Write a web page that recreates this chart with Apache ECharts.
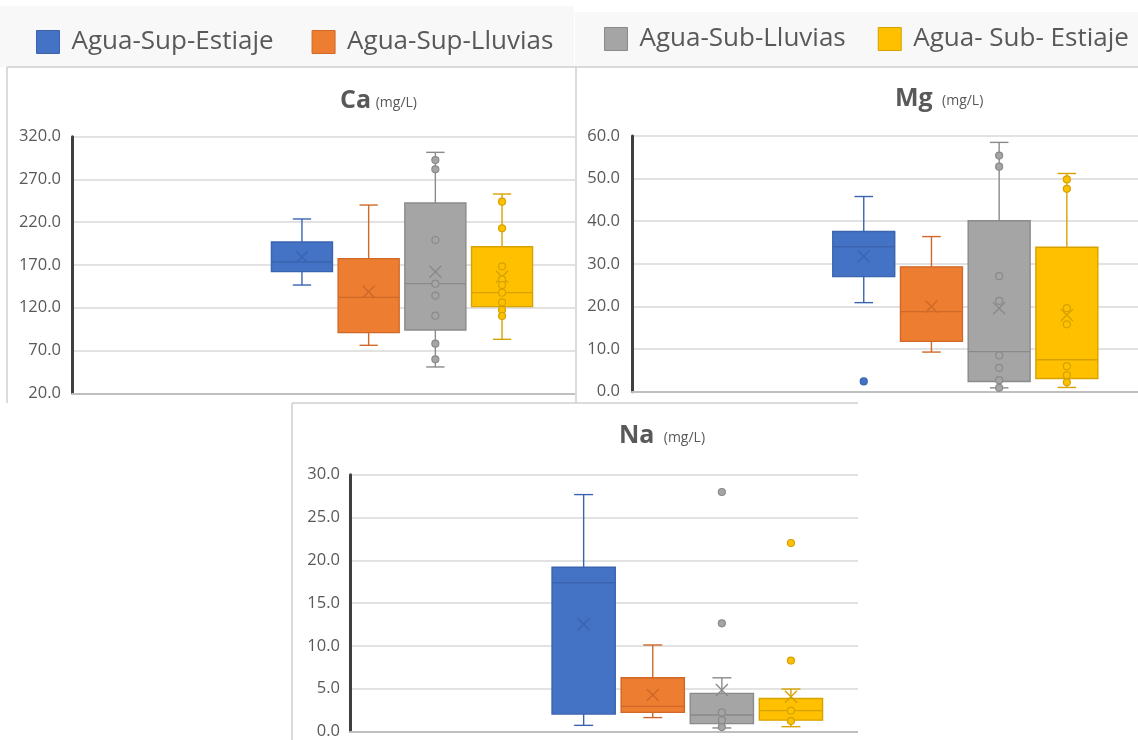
<!DOCTYPE html>
<html>
<head>
<meta charset="utf-8">
<script src="https://cdn.jsdelivr.net/npm/echarts@6/dist/echarts.min.js"></script>
<style>
  html, body { margin: 0; padding: 0; background: #fff; width: 1138px; height: 740px; overflow: hidden; }
  .panel { position: absolute; }
  #ca { left: 0; top: 0; width: 575px; height: 403px; }
  #mg { left: 575px; top: 0; width: 563px; height: 403px; }
  #na { left: 291px; top: 402px; width: 567px; height: 338px; }
</style>
</head>
<body>
<div id="ca" class="panel"></div>
<div id="mg" class="panel"></div>
<div id="na" class="panel"></div>
<script>
// Sample groups (water type / season)
const groups = ['Agua-Sup-Estiaje', 'Agua-Sup-Lluvias', 'Agua-Sub-Lluvias', 'Agua- Sub- Estiaje'];

// Calcium (mg/L): [min, Q1, median, Q3, max], means, individual points
const caStats = [
  [146.6, 162.2, 173.5, 196.9, 223.8],
  [76.1, 90.9, 132.2, 177.4, 240.1],
  [50.8, 94.0, 148.2, 242.5, 301.7],
  [83.1, 121.3, 137.7, 191.4, 253.0]
];
const caMeans = [179.4, 138.8, 162.2, 156.4];
const caPoints = [
  [],
  [],
  [292.7, 281.8, 199.2, 148.2, 134.2, 110.8, 78.0, 59.7],
  [244.0, 212.9, 168.4, 153.3, 146.6, 137.7, 126.4, 117.4, 110.4]
];
const caTicks = [20, 70, 120, 170, 220, 270, 320];

// Magnesium (mg/L)
const mgStats = [
  [20.9, 27.0, 34.0, 37.6, 45.8],
  [9.3, 11.8, 18.8, 29.3, 36.4],
  [0.9, 2.4, 9.4, 40.1, 58.5],
  [1.0, 3.1, 7.5, 33.9, 51.2]
];
const mgMeans = [31.8, 20.0, 19.6, 18.0];
const mgPoints = [
  [2.4],
  [],
  [55.4, 52.8, 27.1, 21.3, 8.5, 5.6, 2.7, 0.9],
  [49.8, 47.6, 19.6, 15.8, 6.0, 3.9, 2.2]
];
const mgTicks = [0, 10, 20, 30, 40, 50, 60];

// Sodium (mg/L)
const naStats = [
  [1.0, 2.3, 17.5, 19.3, 27.7],
  [1.9, 2.5, 3.2, 6.5, 10.3],
  [0.7, 1.2, 2.2, 4.7, 6.5],
  [0.85, 1.6, 2.7, 4.1, 5.2]
];
const naMeans = [12.7, 4.5, 5.1, 4.3];
const naPoints = [
  [],
  [],
  [28.0, 12.8, 2.5, 1.6, 0.8],
  [22.1, 8.5, 2.7, 1.5]
];
const naTicks = [0, 5, 10, 15, 20, 25, 30];

// Styling
const fillColors = ['#4472C4', '#ED7D31', '#A5A5A5', '#FFC000'];
const lineColors = ['#3a64b0', '#cf6828', '#8a8a8a', '#d6a200'];
const textColor = '#595959';
const FONT = 'Open Sans';

// Box + whiskers + mean cross, positioned through the category / value axes
function boxRenderer(idx, widthRatio) {
  return function (params, api) {
    const cat = api.value(0);
    const band = api.size([1, 0])[0];
    const w = band * widthRatio;
    const cap = w * 0.3;
    const pt = k => api.coord([cat, api.value(k)]);
    const cx = pt(3)[0];
    const yMin = pt(1)[1], yQ1 = pt(2)[1], yMed = pt(3)[1], yQ3 = pt(4)[1], yMax = pt(5)[1], yMean = pt(6)[1];
    const ls = { stroke: lineColors[idx], lineWidth: 1.4 };
    const xr = 6;
    return {
      type: 'group',
      children: [
        { type: 'line', shape: { x1: cx, y1: yMax, x2: cx, y2: yQ3 }, style: ls },
        { type: 'line', shape: { x1: cx, y1: yQ1, x2: cx, y2: yMin }, style: ls },
        { type: 'line', shape: { x1: cx - cap / 2, y1: yMax, x2: cx + cap / 2, y2: yMax }, style: ls },
        { type: 'line', shape: { x1: cx - cap / 2, y1: yMin, x2: cx + cap / 2, y2: yMin }, style: ls },
        { type: 'rect', shape: { x: cx - w / 2, y: yQ3, width: w, height: yQ1 - yQ3 },
          style: { fill: fillColors[idx], stroke: lineColors[idx], lineWidth: 1.4 } },
        { type: 'line', shape: { x1: cx - w / 2, y1: yMed, x2: cx + w / 2, y2: yMed }, style: ls },
        { type: 'line', shape: { x1: cx - xr, y1: yMean - xr, x2: cx + xr, y2: yMean + xr }, style: ls },
        { type: 'line', shape: { x1: cx - xr, y1: yMean + xr, x2: cx + xr, y2: yMean - xr }, style: ls }
      ]
    };
  };
}

function buildOption(cfg) {
  const series = [];
  groups.forEach((g, i) => {
    series.push({
      name: g,
      type: 'custom',
      xAxisIndex: 1,
      yAxisIndex: 1,
      z: 2,
      itemStyle: { color: fillColors[i], borderColor: lineColors[i], borderWidth: 1 },
      encode: { x: 0, y: [1, 2, 3, 4, 5, 6] },
      renderItem: boxRenderer(i, 0.915),
      data: [[g].concat(cfg.stats[i], [cfg.means[i]])]
    });
    series.push({
      name: g,
      type: 'scatter',
      xAxisIndex: 1,
      yAxisIndex: 1,
      z: 3,
      symbol: 'circle',
      symbolSize: 7,
      itemStyle: { color: fillColors[i], borderColor: lineColors[i], borderWidth: 1.2, opacity: 1 },
      emphasis: { disabled: true },
      data: cfg.points[i].map(v => [g, v])
    });
  });

  const yMin = cfg.ticks[0], yMax = cfg.ticks[cfg.ticks.length - 1];
  const option = {
    animation: false,
    textStyle: { fontFamily: FONT },
    title: {
      text: '{b|' + cfg.title + '}' + cfg.titleGap + '{s|(mg/L)}',
      left: cfg.titleLeft,
      top: cfg.titleTop,
      padding: 0,
      textStyle: {
        fontWeight: 'normal',
        rich: {
          b: { fontSize: 25, fontWeight: 'bold', color: textColor, fontFamily: FONT },
          s: { fontSize: 14, fontWeight: 'normal', color: textColor, fontFamily: FONT, padding: [6, 0, 0, 0] }
        }
      }
    },
    grid: [
      Object.assign({ containLabel: false }, cfg.frame),
      Object.assign({ containLabel: false }, cfg.plot)
    ],
    xAxis: [
      { gridIndex: 0, type: 'category', data: [''],
        axisLine: { show: true, lineStyle: { color: '#bfbfbf', width: 2 } },
        axisTick: { show: false }, axisLabel: { show: false }, splitLine: { show: false } },
      { gridIndex: 1, type: 'category', data: groups, show: false }
    ],
    yAxis: [
      { gridIndex: 0, type: 'value', min: yMin, max: yMax,
        axisLine: { show: true, lineStyle: { color: '#3f3f3f', width: 3 } },
        axisTick: { show: false, customValues: cfg.ticks },
        axisLabel: { customValues: cfg.ticks, color: textColor, fontSize: 16.5, fontFamily: FONT,
                     margin: cfg.labelMargin, formatter: v => v.toFixed(1) },
        splitLine: { show: true, lineStyle: { color: '#d9d9d9', width: 1.5 } } },
      { gridIndex: 1, type: 'value', min: yMin, max: yMax, show: false, splitLine: { show: false } }
    ],
    graphic: cfg.graphic,
    series: series
  };
  if (cfg.legend) option.legend = cfg.legend;
  return option;
}

function legendFor(names, left, top, gap) {
  return {
    data: names, left: left, top: top, orient: 'horizontal',
    padding: 0,
    icon: 'rect', itemWidth: 23, itemHeight: 23, itemGap: gap,
    selectedMode: false,
    itemStyle: { borderWidth: 1 },
    textStyle: { fontSize: 26, color: textColor, fontFamily: FONT, padding: [0, 0, 0, 7] }
  };
}

const borderStyle = { stroke: '#cfcfcf', lineWidth: 1.5 };

// Calcium panel
echarts.init(document.getElementById('ca'), null, { renderer: 'canvas' }).setOption(buildOption({
  title: 'Ca', titleGap: ' ', titleLeft: 340, titleTop: 88,
  stats: caStats, means: caMeans, points: caPoints, ticks: caTicks,
  labelMargin: 11,
  frame: { left: 72, top: 136.7, width: 700, height: 256.6 },
  plot: { left: 268.6, top: 136.7, width: 266.8, height: 256.6 },
  legend: legendFor([groups[0], groups[1]], 36, 29, 38),
  graphic: [
    { type: 'rect', z: -1, shape: { x: 0, y: 6, width: 574, height: 61 }, style: { fill: '#f8f8f8' } },
    { type: 'line', shape: { x1: 7, y1: 67, x2: 575, y2: 67 }, style: borderStyle },
    { type: 'line', shape: { x1: 7, y1: 67, x2: 7, y2: 403 }, style: borderStyle }
  ]
}));

// Magnesium panel
echarts.init(document.getElementById('mg'), null, { renderer: 'canvas' }).setOption(buildOption({
  title: 'Mg', titleGap: '  ', titleLeft: 320, titleTop: 86,
  stats: mgStats, means: mgMeans, points: mgPoints, ticks: mgTicks,
  labelMargin: 12,
  frame: { left: 57, top: 136, width: 700, height: 255.7 },
  plot: { left: 254.9, top: 136, width: 270.8, height: 255.7 },
  legend: legendFor([groups[2], groups[3]], 29, 26, 32),
  graphic: [
    { type: 'rect', z: -1, shape: { x: 0, y: 12, width: 563, height: 55 }, style: { fill: '#f8f8f8' } },
    { type: 'line', shape: { x1: 0, y1: 67, x2: 563, y2: 67 }, style: borderStyle },
    { type: 'line', shape: { x1: 1, y1: 67, x2: 1, y2: 403 }, style: borderStyle }
  ]
}));

// Sodium panel
echarts.init(document.getElementById('na'), null, { renderer: 'canvas' }).setOption(buildOption({
  title: 'Na', titleGap: '  ', titleLeft: 328, titleTop: 21,
  stats: naStats, means: naMeans, points: naPoints, ticks: naTicks,
  labelMargin: 10,
  frame: { left: 59, top: 72.7, width: 700, height: 259.3 },
  plot: { left: 258.1, top: 72.7, width: 276.4, height: 259.3 },
  graphic: [
    { type: 'line', shape: { x1: 1, y1: 1, x2: 567, y2: 1 }, style: borderStyle },
    { type: 'line', shape: { x1: 1, y1: 1, x2: 1, y2: 338 }, style: borderStyle }
  ]
}));
</script>
</body>
</html>
